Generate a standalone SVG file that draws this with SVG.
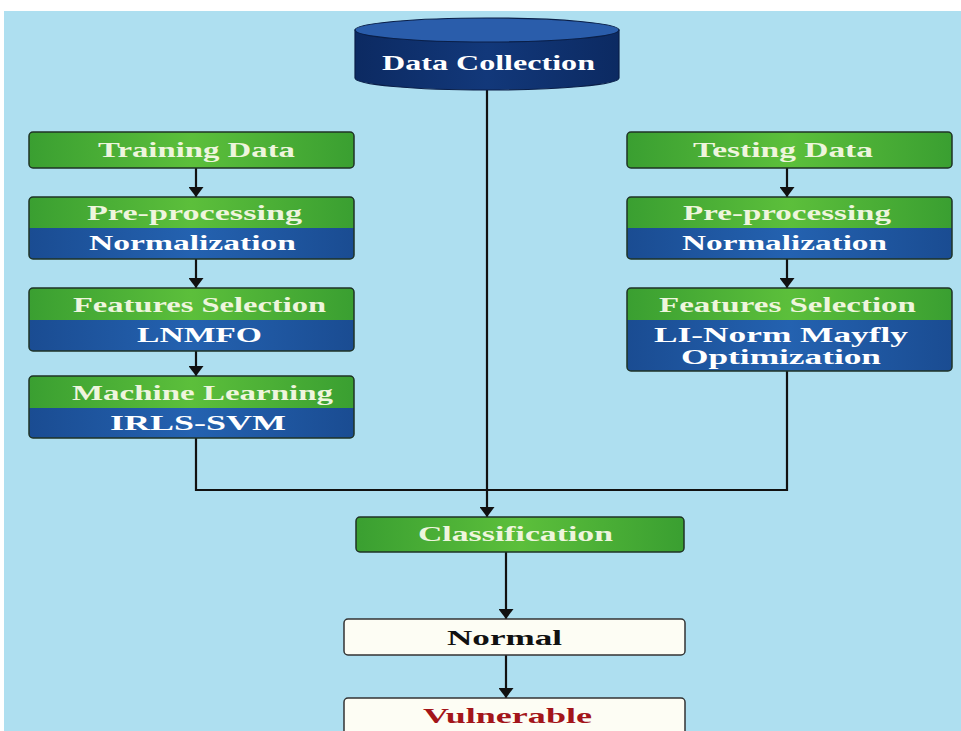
<svg xmlns="http://www.w3.org/2000/svg" width="961" height="731" viewBox="0 0 961 731">
<defs>
<linearGradient id="gGreen" x1="0" y1="0" x2="1" y2="0">
<stop offset="0" stop-color="#3a9f31"/><stop offset="0.5" stop-color="#5cbf3b"/><stop offset="1" stop-color="#3a9f31"/>
</linearGradient>
<linearGradient id="gBlue" x1="0" y1="0" x2="1" y2="0">
<stop offset="0" stop-color="#1a4c92"/><stop offset="0.5" stop-color="#2462b0"/><stop offset="1" stop-color="#1a4c92"/>
</linearGradient>
<linearGradient id="gCyl" x1="0" y1="0" x2="1" y2="0">
<stop offset="0" stop-color="#0c2a62"/><stop offset="0.5" stop-color="#12387a"/><stop offset="1" stop-color="#0c2a62"/>
</linearGradient>
<marker id="ah" viewBox="0 0 10 15" refX="10" refY="7.5" markerWidth="10" markerHeight="15" markerUnits="userSpaceOnUse" orient="auto">
<path d="M0,0 L10,7.5 L0,15 z" fill="#111"/>
</marker>
</defs>
<style>
.bg{fill:#aedff0}
.g{fill:url(#gGreen)}
.b{fill:url(#gBlue)}
.frame{fill:none;stroke:#1f3326;stroke-width:1.5}
.t{font-family:"Liberation Serif","Times New Roman",serif;font-weight:bold;font-size:21px;text-anchor:middle}
.tg{fill:#eef5dd}
.tb{fill:#ffffff}
.wbox{fill:#fdfdf4;stroke:#333;stroke-width:1.5}
.c{fill:none;stroke:#111;stroke-width:2.2}
.ca{fill:none;stroke:#111;stroke-width:2.2;marker-end:url(#ah)}
</style>
<rect x="0" y="0" width="961" height="731" fill="#ffffff"/>
<rect class="bg" x="4" y="11" width="957" height="720"/>

<g id="connectors">
<line class="c" x1="487" y1="90" x2="487" y2="490"/>
<line class="ca" x1="487" y1="490" x2="487" y2="517"/>
<line class="ca" x1="196" y1="168" x2="196" y2="197"/>
<line class="ca" x1="196" y1="259" x2="196" y2="288"/>
<line class="ca" x1="196" y1="351" x2="196" y2="376"/>
<line class="ca" x1="787" y1="168" x2="787" y2="197"/>
<line class="ca" x1="787" y1="259" x2="787" y2="288"/>
<polyline class="c" points="196,438 196,490 787,490 787,371"/>
<line class="ca" x1="506" y1="552" x2="506" y2="619"/>
<line class="ca" x1="506" y1="655" x2="506" y2="698"/>
</g>

<g id="data-collection">
<path d="M355,30 L355,78 A132,12 0 0 0 619,78 L619,30 Z" fill="url(#gCyl)" stroke="#0a1f48" stroke-width="1.2"/>
<ellipse cx="487" cy="30" rx="132" ry="12" fill="#2a5dab" stroke="#0a1f48" stroke-width="1.2"/>
<text class="t tb" x="488.5" y="70" font-size="22" textLength="213" lengthAdjust="spacingAndGlyphs">Data Collection</text>
</g>

<g id="training-data">
<rect class="g" x="29" y="132" width="325" height="36" rx="4"/>
<rect class="frame" x="29" y="132" width="325" height="36" rx="4"/>
<text class="t tg" x="196.5" y="157" textLength="197" lengthAdjust="spacingAndGlyphs">Training Data</text>
</g>

<g id="train-preprocessing">
<rect class="b" x="29" y="197" width="325" height="62" rx="4"/>
<path class="g" d="M33,197 H350 A4,4 0 0 1 354,201 V228 H29 V201 A4,4 0 0 1 33,197 Z"/>
<rect class="frame" x="29" y="197" width="325" height="62" rx="4"/>
<text class="t tg" x="194.5" y="220" textLength="215" lengthAdjust="spacingAndGlyphs">Pre-processing</text>
<text class="t tb" x="192.5" y="250" textLength="207" lengthAdjust="spacingAndGlyphs">Normalization</text>
</g>

<g id="train-features">
<rect class="b" x="29" y="288" width="325" height="63" rx="4"/>
<path class="g" d="M33,288 H350 A4,4 0 0 1 354,292 V320 H29 V292 A4,4 0 0 1 33,288 Z"/>
<rect class="frame" x="29" y="288" width="325" height="63" rx="4"/>
<text class="t tg" x="199.5" y="312" textLength="253" lengthAdjust="spacingAndGlyphs">Features Selection</text>
<text class="t tb" x="199.5" y="342" textLength="125" lengthAdjust="spacingAndGlyphs">LNMFO</text>
</g>

<g id="machine-learning">
<rect class="b" x="29" y="376" width="325" height="62" rx="4"/>
<path class="g" d="M33,376 H350 A4,4 0 0 1 354,380 V408 H29 V380 A4,4 0 0 1 33,376 Z"/>
<rect class="frame" x="29" y="376" width="325" height="62" rx="4"/>
<text class="t tg" x="202.5" y="400" textLength="261" lengthAdjust="spacingAndGlyphs">Machine Learning</text>
<text class="t tb" x="198" y="430" textLength="176" lengthAdjust="spacingAndGlyphs">IRLS-SVM</text>
</g>

<g id="testing-data">
<rect class="g" x="627" y="132" width="325" height="36" rx="4"/>
<rect class="frame" x="627" y="132" width="325" height="36" rx="4"/>
<text class="t tg" x="783" y="157" textLength="180" lengthAdjust="spacingAndGlyphs">Testing Data</text>
</g>

<g id="test-preprocessing">
<rect class="b" x="627" y="197" width="325" height="62" rx="4"/>
<path class="g" d="M631,197 H948 A4,4 0 0 1 952,201 V228 H627 V201 A4,4 0 0 1 631,197 Z"/>
<rect class="frame" x="627" y="197" width="325" height="62" rx="4"/>
<text class="t tg" x="787" y="220" textLength="208" lengthAdjust="spacingAndGlyphs">Pre-processing</text>
<text class="t tb" x="784.5" y="250" textLength="205" lengthAdjust="spacingAndGlyphs">Normalization</text>
</g>

<g id="test-features">
<rect class="b" x="627" y="288" width="325" height="83" rx="4"/>
<path class="g" d="M631,288 H948 A4,4 0 0 1 952,292 V320 H627 V292 A4,4 0 0 1 631,288 Z"/>
<rect class="frame" x="627" y="288" width="325" height="83" rx="4"/>
<text class="t tg" x="787.5" y="312" textLength="257" lengthAdjust="spacingAndGlyphs">Features Selection</text>
<text class="t tb" x="781" y="342" textLength="254" lengthAdjust="spacingAndGlyphs">LI-Norm Mayfly</text>
<text class="t tb" x="781" y="364" textLength="200" lengthAdjust="spacingAndGlyphs">Optimization</text>
</g>

<g id="classification">
<rect class="g" x="356" y="517" width="328" height="35" rx="4"/>
<rect class="frame" x="356" y="517" width="328" height="35" rx="4"/>
<text class="t tg" x="515.5" y="541" textLength="195" lengthAdjust="spacingAndGlyphs">Classification</text>
</g>

<g id="normal">
<rect class="wbox" x="344" y="619" width="341" height="36" rx="4"/>
<text class="t" x="504.5" y="645" font-size="22" fill="#111" textLength="115" lengthAdjust="spacingAndGlyphs">Normal</text>
</g>

<g id="vulnerable">
<rect class="wbox" x="344" y="698" width="341" height="50" rx="4"/>
<text class="t" x="507.5" y="723" font-size="22" fill="#a3151a" textLength="169" lengthAdjust="spacingAndGlyphs">Vulnerable</text>
</g>
</svg>
